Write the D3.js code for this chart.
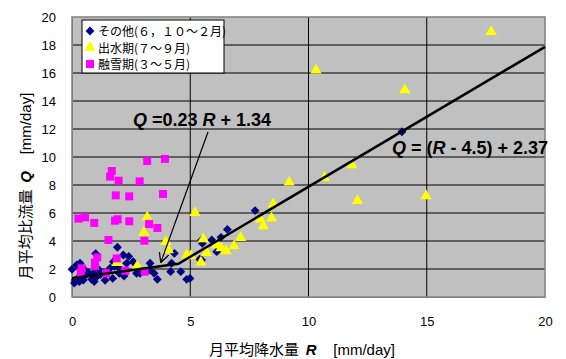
<!DOCTYPE html>
<html>
<head>
<meta charset="utf-8">
<script src="https://cdn.jsdelivr.net/npm/d3@7"></script>
<style>
  body { margin: 0; background: #fff; }
  text { font-family: "Liberation Sans", Arial, "Noto Sans CJK JP", sans-serif; white-space: pre; }
</style>
</head>
<body>
<svg id="chart" width="566" height="359"></svg>
<script>
// その他 (6, 10-2月)
const otherPts = [
  [0, 1.98], [0.13, 1.21], [0.34, 1.5], [0.31, 1.1], [0.48, 1.21], [0.69, 1.74],
  [0.83, 1.26], [0.94, 1.1], [1.04, 1.45], [1.15, 1.93], [1.32, 1.74], [1.72, 1.33],
  [1.92, 3.55], [2.17, 3.0], [1.75, 2.52], [1.96, 2.12], [2.31, 2.41], [2.59, 2.52],
  [2.73, 1.69], [0.34, 2.41], [0.2, 2.29], [1.61, 2.05], [3.3, 2.41], [3.26, 1.93],
  [2.88, 1.69], [3.47, 1.69], [3.61, 1.26], [4.21, 2.41], [4.33, 3.12], [4.17, 1.81],
  [4.6, 1.81], [4.85, 1.26], [5.4, 2.7], [5.48, 4.07], [5.51, 3.83], [5.91, 4.07],
  [6.3, 4.26], [6.57, 4.83], [7.74, 6.17], [6.12, 3.24], [5.48, 2.64], [4.99, 1.33],
  [13.95, 11.8], [0.5, 2.0], [0.6, 1.6], [1.2, 1.6], [1.4, 1.2], [2.0, 1.7],
  [2.4, 2.9], [0.1, 1.0], [0.9, 1.7], [2.2, 1.5], [1.8, 2.2], [1.0, 3.1]
];
// 出水期 (7-9月)
const floodPts = [
  [17.72, 18.95], [10.32, 16.2], [14.07, 14.79], [11.83, 9.43], [10.67, 8.52],
  [12.07, 6.88], [14.97, 7.21], [9.18, 8.19], [5.2, 6.02], [8.51, 6.62],
  [7.95, 5.55], [8.44, 5.62], [8.09, 5.07], [7.13, 4.24], [6.85, 3.64],
  [6.51, 3.29], [6.3, 3.5], [6.12, 3.71], [5.55, 4.14], [5.69, 3.17],
  [5.45, 2.48], [5.02, 2.93], [3.18, 5.69], [3.04, 4.6], [3.97, 3.95],
  [4.07, 3.36], [4.85, 3.0], [2.76, 2.21], [1.9, 2.45]
];
// 融雪期 (3-5月)
const snowPts = [
  [0.27, 5.6], [0.55, 5.69], [0.94, 5.29], [1.82, 5.45], [1.93, 5.55], [2.42, 5.41],
  [3.26, 5.21], [3.61, 4.93], [1.85, 7.26], [2.42, 7.19], [3.85, 7.36], [1.68, 9.0],
  [1.61, 8.6], [1.97, 8.31], [2.86, 8.26], [3.18, 9.71], [3.93, 9.86], [1.54, 4.07],
  [3.06, 4.02], [1.07, 2.83], [0.97, 2.45], [0.97, 2.2], [1.89, 2.76], [0.41, 2.05],
  [0.37, 1.74], [1.44, 1.69], [2.25, 1.88], [3.07, 1.81]
];
// fitted line: Q = 0.23R + 1.34 (R < 4.5), Q = (R - 4.5) + 2.37
const fitLine = [[0, 1.34], [4.5, 2.375], [20, 17.87]];
const xTicks = [0, 5, 10, 15, 20];
const yTicks = [0, 2, 4, 6, 8, 10, 12, 14, 16, 18, 20];

const svg = d3.select("#chart");
const margin = { top: 17, right: 21, bottom: 62, left: 72 };
const W = 566, H = 359;

const x = d3.scaleLinear().domain([0, 20]).range([margin.left, W - margin.right]);
const y = d3.scaleLinear().domain([0, 20]).range([H - margin.bottom, margin.top]);

// plot background
svg.append("rect")
  .attr("x", x(0)).attr("y", y(20))
  .attr("width", x(20) - x(0)).attr("height", y(0) - y(20))
  .attr("fill", "#c0c0c0");

// grid
svg.append("g").selectAll("line")
  .data(yTicks.filter(d => d > 0 && d < 20))
  .enter().append("line")
  .attr("x1", x(0)).attr("x2", x(20))
  .attr("y1", d => y(d)).attr("y2", d => y(d))
  .attr("stroke", "#000").attr("stroke-width", 1);

svg.append("g").selectAll("line")
  .data(xTicks.filter(d => d > 0 && d < 20))
  .enter().append("line")
  .attr("x1", d => x(d)).attr("x2", d => x(d))
  .attr("y1", y(0)).attr("y2", y(20))
  .attr("stroke", "#000").attr("stroke-width", 1);

// border
svg.append("rect")
  .attr("x", x(0)).attr("y", y(20))
  .attr("width", x(20) - x(0)).attr("height", y(0) - y(20))
  .attr("fill", "none").attr("stroke", "#808080").attr("stroke-width", 1.5);

// axes
const xAxis = svg.append("g")
  .attr("transform", `translate(0,${y(0)})`)
  .call(d3.axisBottom(x).tickValues(xTicks).tickSize(0).tickPadding(20));
xAxis.select(".domain").attr("stroke", "#808080");
xAxis.selectAll("text").style("font-size", "13px").attr("fill", "#000");

const yAxis = svg.append("g")
  .attr("transform", `translate(${x(0)},0)`)
  .call(d3.axisLeft(y).tickValues(yTicks).tickSize(0).tickPadding(16));
yAxis.select(".domain").attr("stroke", "#808080");
yAxis.selectAll("text").style("font-size", "13px").attr("fill", "#000");

// markers
const diamond = d3.symbol().type(d3.symbolDiamond2).size(50);
const tri = d3.symbol().type(d3.symbolTriangle).size(56);

svg.append("g").selectAll("path")
  .data(otherPts).enter().append("path")
  .attr("d", diamond)
  .attr("transform", d => `translate(${x(d[0])},${y(d[1])})`)
  .attr("fill", "#000080");

svg.append("g").selectAll("path")
  .data(floodPts).enter().append("path")
  .attr("d", tri)
  .attr("transform", d => `translate(${x(d[0])},${y(d[1])})`)
  .attr("fill", "#ffff00");

svg.append("g").selectAll("rect")
  .data(snowPts).enter().append("rect")
  .attr("x", d => x(d[0]) - 4).attr("y", d => y(d[1]) - 4)
  .attr("width", 8).attr("height", 8)
  .attr("fill", "#ff00ff");

// fitted line
svg.append("path")
  .datum(fitLine)
  .attr("d", d3.line().x(d => x(d[0])).y(d => y(d[1])))
  .attr("fill", "none").attr("stroke", "#000").attr("stroke-width", 2.5);

// annotation arrow
svg.append("defs").append("marker")
  .attr("id", "arr").attr("viewBox", "0 0 10 10")
  .attr("refX", 10).attr("refY", 5)
  .attr("markerWidth", 10).attr("markerHeight", 10)
  .attr("markerUnits", "userSpaceOnUse")
  .attr("orient", "auto")
  .append("path").attr("d", "M0,0 L10,5 L0,10").attr("fill", "none")
  .attr("stroke", "#000").attr("stroke-width", 1.2);

svg.append("line")
  .attr("x1", 208).attr("y1", 132)
  .attr("x2", x(3.75)).attr("y2", y(2.45))
  .attr("stroke", "#000").attr("stroke-width", 1.2)
  .attr("marker-end", "url(#arr)");

// equation labels
const eq1 = svg.append("text")
  .attr("x", 133).attr("y", 126)
  .style("font-size", "18px").style("font-weight", "bold");
eq1.append("tspan").style("font-style", "italic").text("Q");
eq1.append("tspan").text(" =0.23 ");
eq1.append("tspan").style("font-style", "italic").text("R");
eq1.append("tspan").text(" + 1.34");

const eq2 = svg.append("text")
  .attr("x", 392).attr("y", 154)
  .style("font-size", "18px").style("font-weight", "bold");
eq2.append("tspan").style("font-style", "italic").text("Q");
eq2.append("tspan").text(" = (");
eq2.append("tspan").style("font-style", "italic").text("R");
eq2.append("tspan").text(" - 4.5) + 2.37");

// axis titles
const xt = svg.append("text")
  .attr("x", 302).attr("y", 355)
  .attr("text-anchor", "middle")
  .style("font-size", "15px");
xt.append("tspan").style("font-family", "Noto Sans CJK JP").text("月平均降水量  ");
xt.append("tspan").style("font-weight", "bold").style("font-style", "italic").text("R");
xt.append("tspan").text("    [mm/day]");

const yt = svg.append("text")
  .attr("transform", "translate(31,186) rotate(-90)")
  .attr("text-anchor", "middle")
  .style("font-size", "15px");
yt.append("tspan").style("font-family", "Noto Sans CJK JP").text("月平均比流量  ");
yt.append("tspan").style("font-weight", "bold").style("font-style", "italic").text("Q");
yt.append("tspan").text("    [mm/day]");

// legend
const legend = svg.append("g");
legend.append("rect")
  .attr("x", 82).attr("y", 20).attr("width", 142).attr("height", 53)
  .attr("fill", "#fff").attr("stroke", "#000").attr("stroke-width", 1);

const legendItems = [
  { label: "その他(６，１０～２月)", shape: "diamond", color: "#000080" },
  { label: "出水期(７～９月)", shape: "tri", color: "#ffff00" },
  { label: "融雪期(３～５月)", shape: "square", color: "#ff00ff" }
];
legendItems.forEach((it, i) => {
  const cy = 31 + i * 16.5;
  if (it.shape === "square") {
    legend.append("rect").attr("x", 86).attr("y", cy - 4).attr("width", 8).attr("height", 8).attr("fill", it.color);
  } else {
    legend.append("path")
      .attr("d", it.shape === "diamond" ? diamond : tri)
      .attr("transform", `translate(90,${cy})`)
      .attr("fill", it.color);
  }
  legend.append("text")
    .attr("x", 98).attr("y", cy + 5)
    .style("font-family", "Noto Sans CJK JP")
    .style("font-size", "12px")
    .text(it.label);
});
</script>
</body>
</html>
